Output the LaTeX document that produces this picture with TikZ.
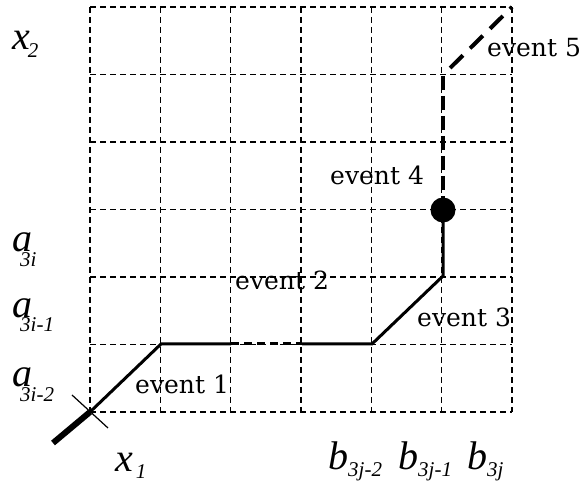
\documentclass[tikz,border=0pt]{standalone}
\usepackage{fontspec}
\setmainfont{DejaVu Serif}
\newfontfamily\labfont{Liberation Serif}
% #1 base letter, #2 subscript, #3 kern before subscript, #4 drop
\newcommand{\biglab}[4]{{\labfont\itshape\fontsize{40}{40}\selectfont #1\kern#3\raisebox{-#4}{\fontsize{21}{21}\selectfont #2}}}
\begin{document}
\begin{tikzpicture}[x=1pt,y=-1pt,
  griddash/.style={line width=1.2pt,dash pattern=on 6pt off 4pt},
  pathline/.style={line width=3pt},
  pathdash/.style={line width=3.2pt,dash pattern=on 14pt off 6pt},
  evlab/.style={anchor=base west,inner sep=0pt,font=\fontsize{25}{25}\selectfont},
  axlab/.style={anchor=base west,inner sep=0pt}]
\useasboundingbox (0,0) rectangle (582,497);
% grid
\foreach \i in {0,...,6} {
  \draw[griddash] (90+\i*70.33,7) -- (90+\i*70.33,412);
  \draw[griddash] (90,7+\i*67.5) -- (512,7+\i*67.5);
}
% path points
\coordinate (s0) at (53,443);
\coordinate (p0) at (90,412);
\coordinate (p1) at (161,344);
\coordinate (p2) at (231,344);
\coordinate (p3) at (302,344);
\coordinate (p4) at (372,344);
\coordinate (p5) at (443,276);
\coordinate (p6) at (443,210);
\coordinate (p7) at (443,75);
\coordinate (p8) at (512,7);
\coordinate (c1) at (72,395);
\coordinate (c2) at (108,428);
% path
\draw[line width=6pt] (s0) -- (p0);
\draw[line width=1.2pt] (c1) -- (c2);
\draw[pathline] (p0) -- (p1) -- (p2);
\draw[line width=3pt,dash pattern=on 8pt off 5pt] (p2) -- (p3);
\draw[pathline] (p3) -- (p4) -- (p5) -- (p6);
\draw[pathdash] (p6) -- (p7);
\draw[line width=4pt,dash pattern=on 18pt off 10pt,dash phase=18pt] (p7) -- (p8);
\fill (p6) circle (12.5);
% event labels
\node[evlab] (e1) at (135,394) {event 1};
\node[evlab] (e2) at (235,290) {event 2};
\node[evlab] (e3) at (417,327) {event 3};
\node[evlab] (e4) at (330,185) {event 4};
\node[evlab] (e5) at (487,57) {event 5};
% axis labels
\node[axlab] (x2) at (12,50) {\biglab{x}{2}{-2pt}{8pt}};
\node[axlab] (a3i) at (12,252) {\biglab{a}{3i}{-12pt}{15pt}};
\node[axlab] (a3i1) at (12,318) {\biglab{a}{3i-1}{-12pt}{14pt}};
\node[axlab] (a3i2) at (12,387) {\biglab{a}{3i-2}{-12pt}{15pt}};
\node[axlab] (x1) at (115,472) {\biglab{x}{1}{3pt}{6pt}};
\node[axlab] (b2) at (328,470) {\biglab{b}{3j-2}{0pt}{7pt}};
\node[axlab] (b1) at (398,470) {\biglab{b}{3j-1}{0pt}{7pt}};
\node[axlab] (b0) at (467,470) {\biglab{b}{3j}{0pt}{7pt}};
\end{tikzpicture}
\end{document}
